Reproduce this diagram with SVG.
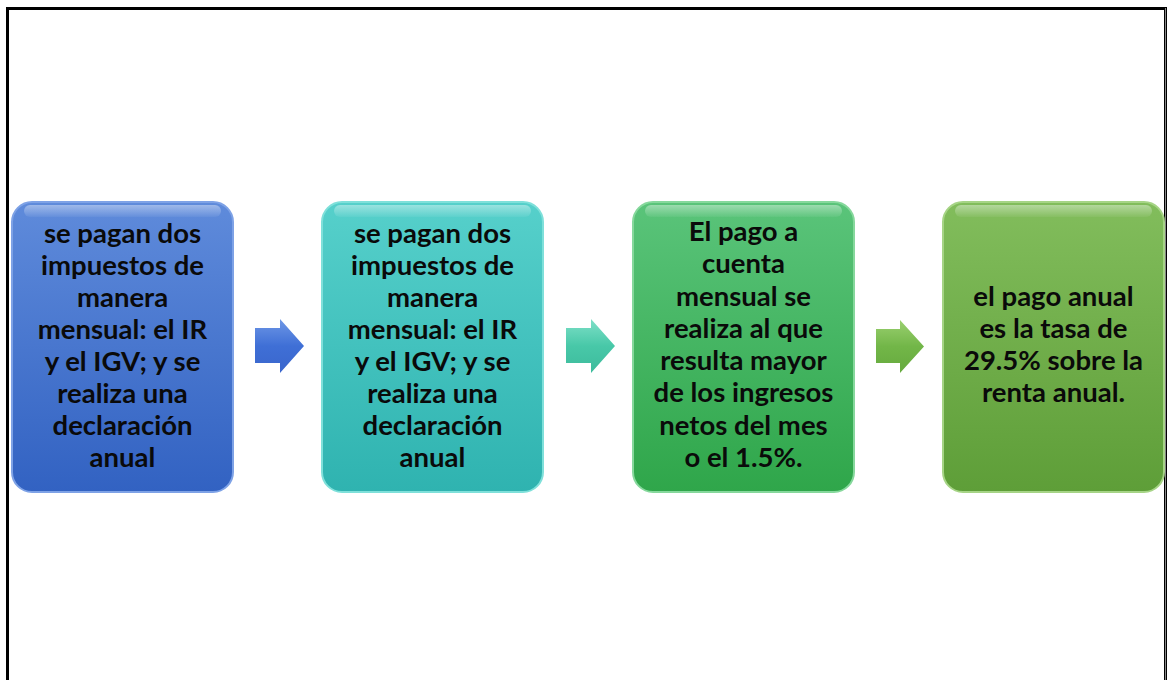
<svg xmlns="http://www.w3.org/2000/svg" width="1168" height="680" viewBox="0 0 1168 680">
<defs>
<linearGradient id="gBlue" x1="0" y1="0" x2="0" y2="1"><stop offset="0" stop-color="#5f8bdb"/><stop offset="1" stop-color="#3262c2"/></linearGradient>
<linearGradient id="gTeal" x1="0" y1="0" x2="0" y2="1"><stop offset="0" stop-color="#56d0cb"/><stop offset="1" stop-color="#2fb3b0"/></linearGradient>
<linearGradient id="gGreen" x1="0" y1="0" x2="0" y2="1"><stop offset="0" stop-color="#5ac47a"/><stop offset="1" stop-color="#2fa64a"/></linearGradient>
<linearGradient id="gLime" x1="0" y1="0" x2="0" y2="1"><stop offset="0" stop-color="#82bd5c"/><stop offset="1" stop-color="#5e9e38"/></linearGradient>
<linearGradient id="aBlue" x1="0" y1="0" x2="0" y2="1"><stop offset="0" stop-color="#6f98e6"/><stop offset="0.5" stop-color="#3f6fd6"/><stop offset="1" stop-color="#3a66cc"/></linearGradient>
<linearGradient id="aTeal" x1="0" y1="0" x2="0" y2="1"><stop offset="0" stop-color="#7fe0c8"/><stop offset="0.5" stop-color="#48c8a8"/><stop offset="1" stop-color="#3dbb9c"/></linearGradient>
<linearGradient id="aGreen" x1="0" y1="0" x2="0" y2="1"><stop offset="0" stop-color="#9bd070"/><stop offset="0.5" stop-color="#72b648"/><stop offset="1" stop-color="#66aa3e"/></linearGradient>
<linearGradient id="hl" x1="0" y1="0" x2="0" y2="1"><stop offset="0" stop-color="#fff" stop-opacity="0.4"/><stop offset="1" stop-color="#fff" stop-opacity="0.05"/></linearGradient>
</defs>
<style>
.box{stroke-width:2}
.t{font-family:Lato,Carlito,"Liberation Sans",sans-serif;font-weight:bold;font-size:27.5px;fill:#0a0a0a;text-anchor:middle}
.hl{fill:url(#hl)}
</style>
<rect x="0" y="0" width="1168" height="680" fill="#fff"/>
<path d="M7.5 680 V8.5 H1165.5 V680" fill="none" stroke="#000" stroke-width="3"/>
<line x1="1165.5" y1="8" x2="1165.5" y2="680" stroke="#888" stroke-width="1"/>

<g id="node1">
<rect class="box" x="12" y="202" width="221" height="290" rx="20" fill="url(#gBlue)" stroke="#7ea2e6"/>
<rect class="hl" x="24" y="205" width="197" height="12" rx="6"/>
<text class="t" x="122.5" y="243">se pagan dos</text>
<text class="t" x="122.5" y="275">impuestos de</text>
<text class="t" x="122.5" y="307">manera</text>
<text class="t" x="122.5" y="339">mensual: el IR</text>
<text class="t" x="122.5" y="371">y el IGV; y se</text>
<text class="t" x="122.5" y="403">realiza una</text>
<text class="t" x="122.5" y="435">declaración</text>
<text class="t" x="122.5" y="467">anual</text>
</g>

<g id="node2">
<rect class="box" x="322" y="202" width="221" height="290" rx="20" fill="url(#gTeal)" stroke="#7fe0da"/>
<rect class="hl" x="334" y="205" width="197" height="12" rx="6"/>
<text class="t" x="432.5" y="243">se pagan dos</text>
<text class="t" x="432.5" y="275">impuestos de</text>
<text class="t" x="432.5" y="307">manera</text>
<text class="t" x="432.5" y="339">mensual: el IR</text>
<text class="t" x="432.5" y="371">y el IGV; y se</text>
<text class="t" x="432.5" y="403">realiza una</text>
<text class="t" x="432.5" y="435">declaración</text>
<text class="t" x="432.5" y="467">anual</text>
</g>

<g id="node3">
<rect class="box" x="633" y="202" width="221" height="290" rx="20" fill="url(#gGreen)" stroke="#86d89c"/>
<rect class="hl" x="645" y="205" width="197" height="12" rx="6"/>
<text class="t" x="743.5" y="241">El pago a</text>
<text class="t" x="743.5" y="273">cuenta</text>
<text class="t" x="743.5" y="306">mensual se</text>
<text class="t" x="743.5" y="338">realiza al que</text>
<text class="t" x="743.5" y="370">resulta mayor</text>
<text class="t" x="743.5" y="402">de los ingresos</text>
<text class="t" x="743.5" y="435">netos del mes</text>
<text class="t" x="743.5" y="467">o el 1.5%.</text>
</g>

<g id="node4">
<rect class="box" x="943" y="202" width="221" height="290" rx="20" fill="url(#gLime)" stroke="#a6d486"/>
<rect class="hl" x="955" y="205" width="197" height="12" rx="6"/>
<text class="t" x="1053.5" y="306">el pago anual</text>
<text class="t" x="1053.5" y="338">es la tasa de</text>
<text class="t" x="1053.5" y="370">29.5% sobre la</text>
<text class="t" x="1053.5" y="402">renta anual.</text>
</g>

<g id="connectors">
<path d="M255 328 H280 V319 L304 346 L280 373 V363 H255 Z" fill="url(#aBlue)"/>
<path d="M566 328 H591 V319 L615 346 L591 373 V363 H566 Z" fill="url(#aTeal)"/>
<path d="M876 329 H900 V320 L924 346.5 L900 373 V363 H876 Z" fill="url(#aGreen)"/>
</g>
</svg>
